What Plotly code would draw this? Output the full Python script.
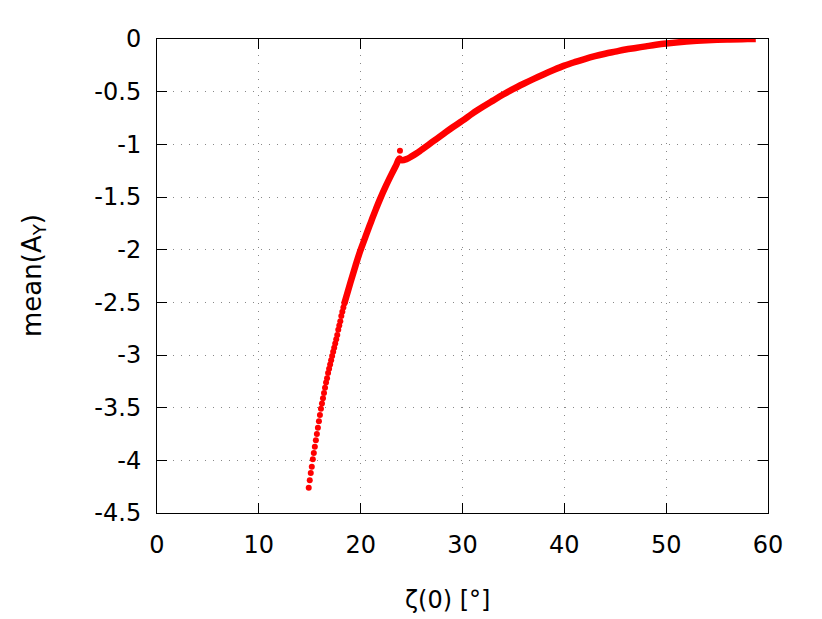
import plotly.graph_objects as go

# steep branch, dots (0.1 deg apart)
zeta_steep = [14.9, 15.0, 15.1, 15.2, 15.3, 15.4, 15.5, 15.6, 15.7, 15.8, 15.9, 16.0,
              16.1, 16.2, 16.3, 16.4, 16.5, 16.6, 16.7, 16.8, 16.9, 17.0, 17.1, 17.2,
              17.3, 17.4, 17.5, 17.6, 17.7, 17.8, 17.9, 18.0, 18.1, 18.2, 18.3, 18.4]
ay_steep = [-4.26, -4.19, -4.12, -4.06, -3.99, -3.93, -3.87, -3.81, -3.75, -3.69, -3.63, -3.57,
            -3.51, -3.46, -3.41, -3.36, -3.31, -3.26, -3.22, -3.17, -3.13, -3.09, -3.05, -3.01,
            -2.97, -2.93, -2.89, -2.85, -2.81, -2.76, -2.72, -2.68, -2.63, -2.59, -2.55, -2.51]

# rest of the curve, dense enough that the dots merge into a thick band
zeta_band = [18.4, 19.0, 19.5, 19.93, 20.5, 21.0, 21.5, 21.9, 22.5, 23.0, 23.5, 23.8,
             24.0, 24.5, 25.0, 25.5, 26.0, 27.0, 28.0, 29.0, 30.0, 31.0, 32.0, 33.0,
             34.0, 35.0, 36.0, 37.0, 38.0, 39.0, 40.0, 41.0, 42.0, 43.0, 44.0, 45.0,
             46.0, 47.0, 48.0, 49.0, 50.0, 52.0, 54.0, 56.0, 58.0, 58.8]
ay_band = [-2.51, -2.31, -2.15, -2.02, -1.87, -1.74, -1.615, -1.52, -1.39, -1.29, -1.195, -1.135,
           -1.15, -1.14, -1.115, -1.085, -1.05, -0.98, -0.91, -0.84, -0.775, -0.706, -0.644, -0.585,
           -0.527, -0.474, -0.425, -0.378, -0.334, -0.292, -0.253, -0.22, -0.19, -0.163, -0.14, -0.12,
           -0.10, -0.085, -0.07, -0.055, -0.043, -0.025, -0.012, -0.004, -0.001, 0.0]

# lone point above the kink
zeta_out = [23.86]
ay_out = [-1.06]

x_ticks = [0, 10, 20, 30, 40, 50, 60]
y_ticks = [0, -0.5, -1, -1.5, -2, -2.5, -3, -3.5, -4, -4.5]
y_tick_text = ["0", "-0.5", "-1", "-1.5", "-2", "-2.5", "-3", "-3.5", "-4", "-4.5"]

red = "#ff0000"
font = "DejaVu Sans"

fig = go.Figure()
fig.add_trace(go.Scatter(x=zeta_band, y=ay_band, mode="lines",
                         line=dict(color=red, width=6.5, shape="spline"), hoverinfo="skip"))
fig.add_trace(go.Scatter(x=zeta_steep, y=ay_steep, mode="markers",
                         marker=dict(color=red, size=6)))
fig.add_trace(go.Scatter(x=zeta_out, y=ay_out, mode="markers",
                         marker=dict(color=red, size=6)))

axis_style = dict(showline=True, linecolor="black", linewidth=1, mirror="ticks",
                  ticks="inside", ticklen=10, tickcolor="black", tickwidth=1,
                  showgrid=True, gridcolor="#888888", griddash="1px,7px", gridwidth=1,
                  zeroline=False, tickfont=dict(family=font, size=24, color="black"),
                  ticklabelstandoff=10, automargin=False)

fig.update_xaxes(range=[0, 60], tickmode="array", tickvals=x_ticks,
                 ticktext=[str(v) for v in x_ticks], **axis_style)
fig.update_yaxes(range=[-4.5, 0], tickmode="array", tickvals=y_ticks,
                 ticktext=y_tick_text, **axis_style)

fig.add_annotation(text="ζ(0) [°]", xref="paper", yref="paper", x=0.476, y=0,
                   yshift=-87, showarrow=False, yanchor="middle",
                   font=dict(family=font, size=24, color="black"))
fig.add_annotation(text="mean(A<sub>Y</sub>)", xref="paper", yref="paper", x=0, y=0.5,
                   xshift=-124, showarrow=False, textangle=-90, xanchor="center",
                   font=dict(family=font, size=26, color="black"))

# the page body adds an 8px offset, so the margins are shifted to compensate
fig.update_layout(width=822, height=619, showlegend=False,
                  plot_bgcolor="white", paper_bgcolor="white",
                  margin=dict(l=149, r=62, t=31, b=114))

fig.write_html("out.html")
